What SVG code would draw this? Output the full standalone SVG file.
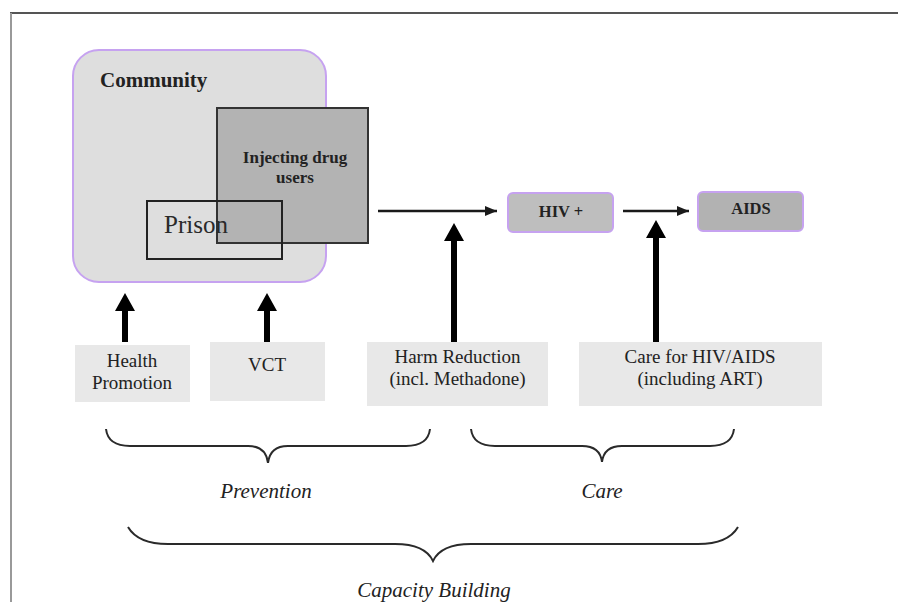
<svg xmlns="http://www.w3.org/2000/svg" width="898" height="602" viewBox="0 0 898 602">
<defs>
<style>
text{font-family:"Liberation Serif","Times New Roman",serif;fill:#222}
.b{font-weight:bold}
.it{font-style:italic;font-size:21px}
.box{fill:#e8e8e8}
.lbl{font-size:19px;text-anchor:middle}
.stage{stroke:#c6a2f0;stroke-width:2}
.brace{fill:none;stroke:#2a2a2a;stroke-width:2}
.thin{stroke:#1a1a1a;stroke-width:2.5;fill:none}
.thick{fill:#000}
</style>
<marker id="ah" viewBox="0 0 12 10" refX="12" refY="5" markerWidth="12" markerHeight="10" markerUnits="userSpaceOnUse" orient="auto">
<path d="M0,0 L12,5 L0,10 Z" fill="#1a1a1a"/>
</marker>
</defs>
<rect width="898" height="602" fill="#fff"/>
<g id="frame">
<line x1="10" y1="13" x2="898" y2="13" stroke="#555" stroke-width="2"/>
<line x1="11" y1="13" x2="11" y2="602" stroke="#999" stroke-width="2"/>
</g>
<g id="community">
<rect x="73" y="50" width="253" height="232" rx="26" fill="#dedede" stroke="#c6a2f0" stroke-width="2"/>
<text x="100" y="87" class="b" font-size="21">Community</text>
</g>
<g id="idu">
<rect x="217" y="108" width="151" height="135" fill="#b3b3b3" stroke="#333" stroke-width="2"/>
<text x="295" y="163" class="b" font-size="17" text-anchor="middle">Injecting drug</text>
<text x="295" y="183" class="b" font-size="17" text-anchor="middle">users</text>
</g>
<g id="prison">
<rect x="147" y="201" width="135" height="58" fill="none" stroke="#222" stroke-width="2"/>
<text x="164" y="233" font-size="25" style="fill:#2a2a2a">Prison</text>
</g>
<g id="hiv">
<rect x="508" y="193" width="105" height="39" rx="5" class="stage" fill="#bebebe"/>
<text x="561" y="217" class="b" font-size="16.5" text-anchor="middle">HIV +</text>
</g>
<g id="aids">
<rect x="698" y="192" width="105" height="39" rx="5" class="stage" fill="#b2b2b2"/>
<text x="751" y="214" class="b" font-size="16.5" text-anchor="middle">AIDS</text>
</g>
<g id="health-promotion">
<rect x="75" y="345" width="115" height="57" class="box"/>
<text x="132" y="367" class="lbl">Health</text>
<text x="132" y="389" class="lbl">Promotion</text>
</g>
<g id="vct">
<rect x="210" y="342" width="115" height="59" class="box"/>
<text x="267" y="371" class="lbl" font-size="18">VCT</text>
</g>
<g id="harm-reduction">
<rect x="367" y="342" width="181" height="64" class="box"/>
<text x="457.5" y="363" class="lbl">Harm Reduction</text>
<text x="457.5" y="385" class="lbl">(incl. Methadone)</text>
</g>
<g id="care-box">
<rect x="579" y="342" width="243" height="64" class="box"/>
<text x="700" y="363" class="lbl">Care for HIV/AIDS</text>
<text x="700" y="385" class="lbl">(including ART)</text>
</g>
<g id="connectors">
<line x1="378" y1="211" x2="497" y2="211" class="thin" marker-end="url(#ah)"/>
<line x1="623" y1="211" x2="689" y2="211" class="thin" marker-end="url(#ah)"/>
<path class="thick" d="M122,342 L122,311 L115,311 L125,293 L135,311 L128,311 L128,342 Z"/>
<path class="thick" d="M264,342 L264,311 L257,311 L267,293 L277,311 L270,311 L270,342 Z"/>
<path class="thick" d="M451,342 L451,241 L444,241 L454,223 L464,241 L457,241 L457,342 Z"/>
<path class="thick" d="M653,342 L653,238 L646,238 L656,220 L666,238 L659,238 L659,342 Z"/>
</g>
<g id="prevention">
<path class="brace" d="M106,429 Q108,446 130,446 L248,446 Q266,446 268,463 Q270,446 288,446 L406,446 Q428,446 430,429"/>
<text x="266" y="498" class="it" text-anchor="middle">Prevention</text>
</g>
<g id="care">
<path class="brace" d="M471,429 Q473,446 495,446 L582,446 Q600,446 602,462 Q604,446 622,446 L710,446 Q732,446 734,429"/>
<text x="602" y="498" class="it" text-anchor="middle">Care</text>
</g>
<g id="capacity-building">
<path class="brace" d="M128,527 Q138,544 168,544 L395,544 Q425,544 433,561 Q441,544 471,544 L698,544 Q728,544 738,527"/>
<text x="434" y="597" class="it" text-anchor="middle">Capacity Building</text>
</g>
</svg>
